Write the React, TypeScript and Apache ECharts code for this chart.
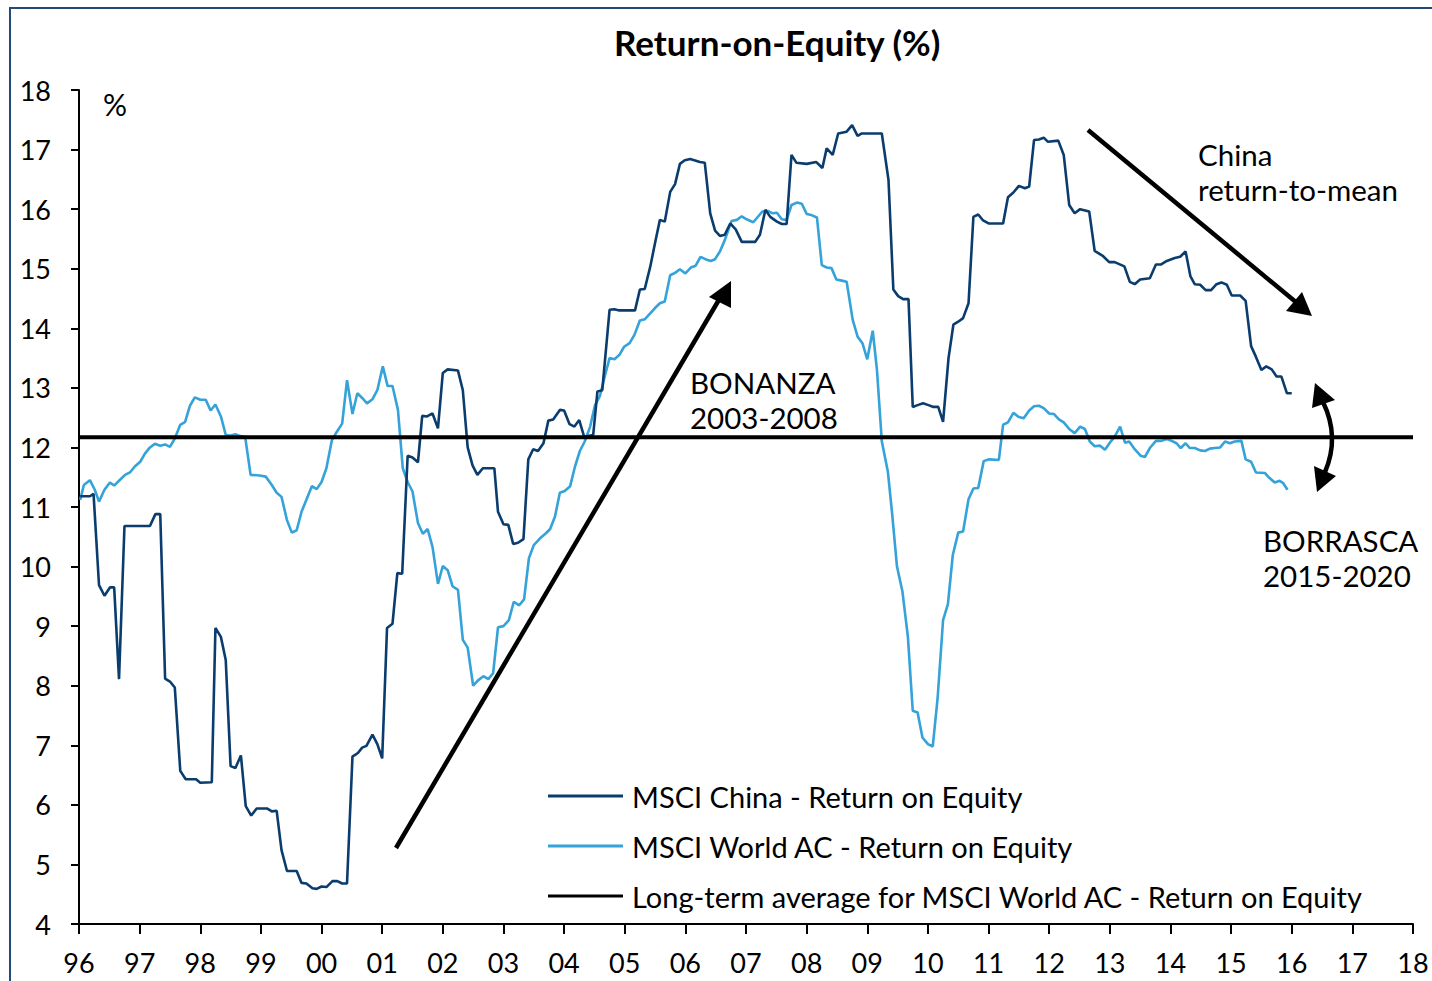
import React, { useEffect, useRef } from "react";
import * as echarts from "echarts";

// MSCI China - Return on Equity (decimal year, %)
const chinaROE: [number, number][] = [
  [1996.02, 11.18], [1996.18, 11.18], [1996.24, 11.22], [1996.33, 9.69], [1996.42, 9.51], [1996.51, 9.65], [1996.58, 9.65], [1996.66, 8.11],
  [1996.75, 10.68], [1997.17, 10.68], [1997.26, 10.88], [1997.34, 10.88], [1997.42, 8.12], [1997.5, 8.07], [1997.58, 7.97], [1997.67, 6.57],
  [1997.76, 6.43], [1997.93, 6.43], [1998.0, 6.37], [1998.19, 6.38], [1998.25, 8.97], [1998.34, 8.82], [1998.42, 8.43], [1998.5, 6.65],
  [1998.58, 6.62], [1998.67, 6.83], [1998.75, 5.98], [1998.84, 5.82], [1998.93, 5.94], [1999.1, 5.94], [1999.18, 5.89], [1999.26, 5.9],
  [1999.34, 5.24], [1999.43, 4.89], [1999.59, 4.89], [1999.67, 4.69], [1999.75, 4.68], [1999.85, 4.6], [1999.92, 4.59], [2000.0, 4.63],
  [2000.08, 4.62], [2000.18, 4.72], [2000.26, 4.72], [2000.34, 4.68], [2000.42, 4.68], [2000.51, 6.81], [2000.6, 6.87], [2000.67, 6.96],
  [2000.74, 6.99], [2000.84, 7.18], [2000.92, 7.02], [2001.0, 6.78], [2001.08, 8.97], [2001.17, 9.04], [2001.25, 9.89], [2001.33, 9.88],
  [2001.42, 11.86], [2001.5, 11.83], [2001.59, 11.75], [2001.66, 12.53], [2001.74, 12.52], [2001.83, 12.57], [2001.92, 12.32], [2002.0, 13.25],
  [2002.08, 13.31], [2002.25, 13.29], [2002.33, 12.96], [2002.41, 12.0], [2002.49, 11.7], [2002.57, 11.54], [2002.66, 11.65], [2002.85, 11.65],
  [2002.91, 10.92], [2003.0, 10.71], [2003.08, 10.7], [2003.16, 10.38], [2003.24, 10.4], [2003.33, 10.46], [2003.41, 11.8], [2003.49, 11.97],
  [2003.57, 11.94], [2003.66, 12.07], [2003.74, 12.45], [2003.82, 12.47], [2003.93, 12.63], [2004.0, 12.62], [2004.09, 12.39], [2004.17, 12.35],
  [2004.25, 12.46], [2004.33, 12.18], [2004.48, 12.21], [2004.55, 12.94], [2004.63, 12.96], [2004.75, 14.31], [2004.83, 14.32], [2004.91, 14.3],
  [2005.17, 14.3], [2005.25, 14.65], [2005.33, 14.66], [2005.42, 15.03], [2005.5, 15.43], [2005.58, 15.82], [2005.66, 15.79], [2005.75, 16.29],
  [2005.83, 16.42], [2005.91, 16.76], [2005.99, 16.82], [2006.08, 16.84], [2006.24, 16.79], [2006.32, 16.78], [2006.41, 15.93], [2006.49, 15.64],
  [2006.57, 15.55], [2006.65, 15.57], [2006.74, 15.76], [2006.83, 15.66], [2006.93, 15.45], [2007.15, 15.45], [2007.23, 15.57], [2007.32, 15.99],
  [2007.4, 15.87], [2007.51, 15.79], [2007.59, 15.75], [2007.67, 15.75], [2007.75, 16.91], [2007.83, 16.78], [2008.0, 16.76], [2008.16, 16.79],
  [2008.26, 16.69], [2008.33, 17.02], [2008.43, 16.91], [2008.52, 17.27], [2008.66, 17.3], [2008.75, 17.41], [2008.84, 17.23], [2008.91, 17.27],
  [2009.24, 17.27], [2009.35, 16.49], [2009.43, 14.65], [2009.51, 14.54], [2009.59, 14.49], [2009.68, 14.49], [2009.75, 12.68], [2009.83, 12.71],
  [2009.92, 12.74], [2010.01, 12.71], [2010.09, 12.68], [2010.17, 12.68], [2010.25, 12.43], [2010.34, 13.5], [2010.42, 14.06], [2010.5, 14.11],
  [2010.58, 14.17], [2010.67, 14.42], [2010.75, 15.87], [2010.83, 15.91], [2010.91, 15.81], [2011.0, 15.76], [2011.24, 15.76], [2011.32, 16.2],
  [2011.41, 16.28], [2011.5, 16.39], [2011.6, 16.35], [2011.67, 16.38], [2011.75, 17.16], [2011.83, 17.17], [2011.91, 17.2], [2011.98, 17.13],
  [2012.15, 17.15], [2012.24, 16.91], [2012.33, 16.07], [2012.42, 15.93], [2012.51, 16.0], [2012.66, 15.96], [2012.75, 15.3], [2012.89, 15.21],
  [2012.99, 15.11], [2013.08, 15.11], [2013.24, 15.04], [2013.33, 14.78], [2013.41, 14.74], [2013.5, 14.82], [2013.66, 14.84], [2013.76, 15.07],
  [2013.84, 15.07], [2013.94, 15.13], [2014.07, 15.18], [2014.16, 15.2], [2014.25, 15.29], [2014.33, 14.87], [2014.4, 14.74], [2014.49, 14.73],
  [2014.58, 14.64], [2014.67, 14.64], [2014.76, 14.74], [2014.84, 14.77], [2014.93, 14.73], [2015.01, 14.55], [2015.15, 14.55], [2015.24, 14.46],
  [2015.33, 13.7], [2015.41, 13.52], [2015.5, 13.3], [2015.58, 13.36], [2015.67, 13.31], [2015.75, 13.19], [2015.83, 13.19], [2015.92, 12.91],
  [2016.0, 12.91],
];

// MSCI World AC - Return on Equity (decimal year, %)
const worldROE: [number, number][] = [
  [1996.02, 11.12], [1996.08, 11.37], [1996.18, 11.45], [1996.26, 11.29], [1996.33, 11.09], [1996.42, 11.29], [1996.51, 11.41], [1996.58, 11.36],
  [1996.66, 11.44], [1996.76, 11.54], [1996.84, 11.58], [1996.92, 11.68], [1997.01, 11.76], [1997.09, 11.9], [1997.17, 12.0], [1997.25, 12.06],
  [1997.34, 12.03], [1997.42, 12.05], [1997.5, 12.01], [1997.58, 12.15], [1997.67, 12.38], [1997.75, 12.43], [1997.83, 12.7], [1997.91, 12.84],
  [1998.0, 12.8], [1998.09, 12.8], [1998.17, 12.62], [1998.25, 12.72], [1998.34, 12.52], [1998.42, 12.21], [1998.5, 12.2], [1998.58, 12.22],
  [1998.66, 12.19], [1998.74, 12.18], [1998.83, 11.54], [1998.98, 11.53], [1999.08, 11.51], [1999.18, 11.37], [1999.26, 11.24], [1999.34, 11.17],
  [1999.43, 10.78], [1999.51, 10.57], [1999.59, 10.61], [1999.67, 10.92], [1999.75, 11.12], [1999.84, 11.35], [1999.92, 11.3], [2000.0, 11.42],
  [2000.08, 11.65], [2000.17, 12.12], [2000.25, 12.26], [2000.34, 12.4], [2000.42, 13.13], [2000.51, 12.56], [2000.59, 12.91], [2000.67, 12.83],
  [2000.75, 12.74], [2000.84, 12.81], [2000.92, 12.96], [2001.01, 13.36], [2001.09, 13.03], [2001.17, 13.03], [2001.26, 12.63], [2001.34, 11.65],
  [2001.42, 11.42], [2001.5, 11.26], [2001.59, 10.73], [2001.67, 10.55], [2001.75, 10.63], [2001.83, 10.33], [2001.92, 9.71], [2002.0, 10.01],
  [2002.08, 9.94], [2002.16, 9.67], [2002.25, 9.61], [2002.33, 8.77], [2002.41, 8.64], [2002.5, 8.0], [2002.58, 8.09], [2002.67, 8.16],
  [2002.75, 8.11], [2002.83, 8.21], [2002.91, 8.98], [2003.0, 9.0], [2003.09, 9.1], [2003.17, 9.41], [2003.26, 9.35], [2003.34, 9.45],
  [2003.42, 10.14], [2003.5, 10.36], [2003.6, 10.47], [2003.7, 10.56], [2003.77, 10.63], [2003.85, 10.84], [2003.93, 11.24], [2004.01, 11.27],
  [2004.1, 11.35], [2004.18, 11.68], [2004.26, 11.94], [2004.34, 12.1], [2004.43, 12.35], [2004.51, 12.71], [2004.59, 12.86], [2004.67, 13.19],
  [2004.75, 13.5], [2004.83, 13.48], [2004.91, 13.55], [2004.99, 13.69], [2005.08, 13.75], [2005.16, 13.89], [2005.25, 14.13], [2005.33, 14.15],
  [2005.42, 14.25], [2005.5, 14.34], [2005.58, 14.42], [2005.66, 14.45], [2005.75, 14.89], [2005.83, 14.93], [2005.91, 14.99], [2006.0, 14.92],
  [2006.09, 15.02], [2006.17, 15.05], [2006.25, 15.2], [2006.33, 15.16], [2006.42, 15.13], [2006.49, 15.16], [2006.57, 15.29], [2006.65, 15.48],
  [2006.76, 15.8], [2006.85, 15.82], [2006.93, 15.88], [2007.01, 15.83], [2007.12, 15.78], [2007.27, 15.96], [2007.36, 15.97], [2007.44, 15.93],
  [2007.51, 15.94], [2007.59, 15.83], [2007.67, 15.82], [2007.75, 16.07], [2007.84, 16.11], [2007.92, 16.09], [2008.0, 15.92], [2008.08, 15.9],
  [2008.17, 15.86], [2008.25, 15.06], [2008.33, 15.02], [2008.41, 15.01], [2008.49, 14.82], [2008.58, 14.8], [2008.66, 14.78], [2008.76, 14.14],
  [2008.84, 13.86], [2008.92, 13.75], [2009.0, 13.48], [2009.09, 13.96], [2009.16, 13.3], [2009.24, 12.1], [2009.34, 11.59], [2009.41, 10.89],
  [2009.49, 10.0], [2009.58, 9.58], [2009.67, 8.82], [2009.75, 7.58], [2009.83, 7.55], [2009.91, 7.13], [2010.0, 7.02], [2010.08, 6.98],
  [2010.16, 7.79], [2010.25, 9.1], [2010.33, 9.37], [2010.41, 10.19], [2010.5, 10.57], [2010.58, 10.59], [2010.67, 11.13], [2010.75, 11.31],
  [2010.83, 11.32], [2010.92, 11.77], [2011.01, 11.8], [2011.17, 11.79], [2011.24, 12.38], [2011.32, 12.42], [2011.41, 12.58], [2011.5, 12.51],
  [2011.58, 12.49], [2011.67, 12.62], [2011.75, 12.69], [2011.83, 12.7], [2011.91, 12.66], [2012.0, 12.57], [2012.08, 12.56], [2012.16, 12.47],
  [2012.24, 12.42], [2012.34, 12.3], [2012.42, 12.24], [2012.51, 12.35], [2012.59, 12.31], [2012.67, 12.1], [2012.75, 12.02], [2012.84, 12.03],
  [2012.92, 11.96], [2013.0, 12.08], [2013.08, 12.18], [2013.17, 12.35], [2013.25, 12.08], [2013.32, 12.1], [2013.41, 11.97], [2013.51, 11.86],
  [2013.58, 11.84], [2013.66, 11.99], [2013.76, 12.11], [2013.85, 12.11], [2013.94, 12.14], [2014.02, 12.11], [2014.1, 12.07], [2014.17, 11.99],
  [2014.25, 12.07], [2014.32, 11.99], [2014.4, 11.99], [2014.49, 11.95], [2014.57, 11.94], [2014.65, 11.98], [2014.73, 11.99], [2014.82, 12.0],
  [2014.9, 12.1], [2014.98, 12.07], [2015.06, 12.1], [2015.17, 12.11], [2015.24, 11.8], [2015.33, 11.76], [2015.41, 11.58], [2015.56, 11.57],
  [2015.63, 11.49], [2015.72, 11.41], [2015.8, 11.44], [2015.86, 11.4], [2015.93, 11.29],
];

const longTermAverage = 12.17;
const xRange = [1996, 2018];
const yRange = [4, 18];
const seriesNames = [
  "MSCI China - Return on Equity",
  "MSCI World AC - Return on Equity",
  "Long-term average for MSCI World AC - Return on Equity",
];
const titleText = "Return-on-Equity (%)";

const FONT = "Lato, 'Open Sans', sans-serif";
const CHINA_COLOR = "#0b3c6e";
const WORLD_COLOR = "#35a2d9";

export default function App() {
  const ref = useRef<HTMLDivElement>(null);
  useEffect(() => {
    document.body.style.margin = "0";
    const chart = echarts.init(ref.current!, undefined, { renderer: "svg" });
    const txt = (text: string, x: number, y: number, size = 29.5) => ({
      type: "text",
      x,
      y,
      silent: true,
      style: { text, fontSize: size, fontFamily: FONT, fill: "#000", verticalAlign: "middle", align: "left" },
    });
    chart.setOption({
      animation: false,
      backgroundColor: "#fff",
      title: {
        text: titleText,
        left: 609,
        top: 19,
        textStyle: { fontFamily: FONT, fontWeight: "bold", fontSize: 35, color: "#000" },
      },
      grid: { left: 79, right: 19, top: 90, bottom: 57, containLabel: false },
      xAxis: {
        type: "value",
        min: xRange[0],
        max: xRange[1],
        interval: 1,
        axisLine: { lineStyle: { color: "#000", width: 2 } },
        axisTick: { length: 10, lineStyle: { color: "#000", width: 2 } },
        axisLabel: {
          formatter: (v: number) => String(v).slice(2),
          fontSize: 27,
          fontFamily: FONT,
          color: "#000",
          margin: 25,
        },
        splitLine: { show: false },
      },
      yAxis: {
        type: "value",
        min: yRange[0],
        max: yRange[1],
        interval: 1,
        axisLine: { show: true, lineStyle: { color: "#000", width: 2 } },
        axisTick: { show: true, length: 8, lineStyle: { color: "#000", width: 2 } },
        axisLabel: { fontSize: 27, fontFamily: FONT, color: "#000", margin: 28 },
        splitLine: { show: false },
      },
      legend: {
        orient: "vertical",
        left: 548,
        top: 781,
        padding: 0,
        itemWidth: 75,
        itemHeight: 3,
        itemGap: 20,
        icon: "rect",
        textStyle: { fontSize: 29, fontFamily: FONT, color: "#000", lineHeight: 30, padding: [0, 0, 0, 4] },
        data: seriesNames,
      },
      series: [
        {
          name: seriesNames[0],
          type: "line",
          data: chinaROE,
          symbol: "none",
          lineStyle: { color: CHINA_COLOR, width: 2.6 },
          itemStyle: { color: CHINA_COLOR },
          z: 3,
        },
        {
          name: seriesNames[1],
          type: "line",
          data: worldROE,
          symbol: "none",
          lineStyle: { color: WORLD_COLOR, width: 2.6 },
          itemStyle: { color: WORLD_COLOR },
          z: 2,
        },
        {
          name: seriesNames[2],
          type: "line",
          data: [[xRange[0], longTermAverage], [xRange[1], longTermAverage]],
          symbol: "none",
          lineStyle: { color: "#000", width: 4 },
          itemStyle: { color: "#000" },
          z: 4,
        },
      ],
      graphic: [
        {
          type: "rect",
          silent: true,
          shape: { x: 10, y: 8, width: 1440, height: 1000 },
          style: { fill: "none", stroke: "#244a7a", lineWidth: 2 },
        },
        txt("%", 103, 104, 30),
        txt("BONANZA", 690, 382),
        txt("2003-2008", 690, 417),
        txt("China", 1198, 154),
        txt("return-to-mean", 1198, 189),
        txt("BORRASCA", 1263, 540),
        txt("2015-2020", 1263, 575),
        {
          type: "line",
          silent: true,
          shape: { x1: 396, y1: 848, x2: 720, y2: 298 },
          style: { stroke: "#000", lineWidth: 4.5 },
        },
        {
          type: "polygon",
          silent: true,
          shape: { points: [[731, 281], [709, 297], [731, 308]] },
          style: { fill: "#000" },
        },
        {
          type: "line",
          silent: true,
          shape: { x1: 1088, y1: 130, x2: 1297, y2: 303 },
          style: { stroke: "#000", lineWidth: 4.5 },
        },
        {
          type: "polygon",
          silent: true,
          shape: { points: [[1312, 316], [1286, 311], [1302, 292]] },
          style: { fill: "#000" },
        },
        {
          type: "bezierCurve",
          silent: true,
          shape: { x1: 1323, y1: 402, cpx1: 1340, cpy1: 437, x2: 1325, y2: 472 },
          style: { stroke: "#000", lineWidth: 4.5, fill: "none" },
        },
        {
          type: "polygon",
          silent: true,
          shape: { points: [[1315, 383], [1312, 408], [1335, 400]] },
          style: { fill: "#000" },
        },
        {
          type: "polygon",
          silent: true,
          shape: { points: [[1317, 492], [1314, 466], [1336, 476]] },
          style: { fill: "#000" },
        },
      ],
    });
    return () => chart.dispose();
  }, []);
  return (
    <div
      ref={ref}
      style={{ width: 1432, height: 981, position: "absolute", left: 0, top: 0, background: "#fff" }}
    />
  );
}
